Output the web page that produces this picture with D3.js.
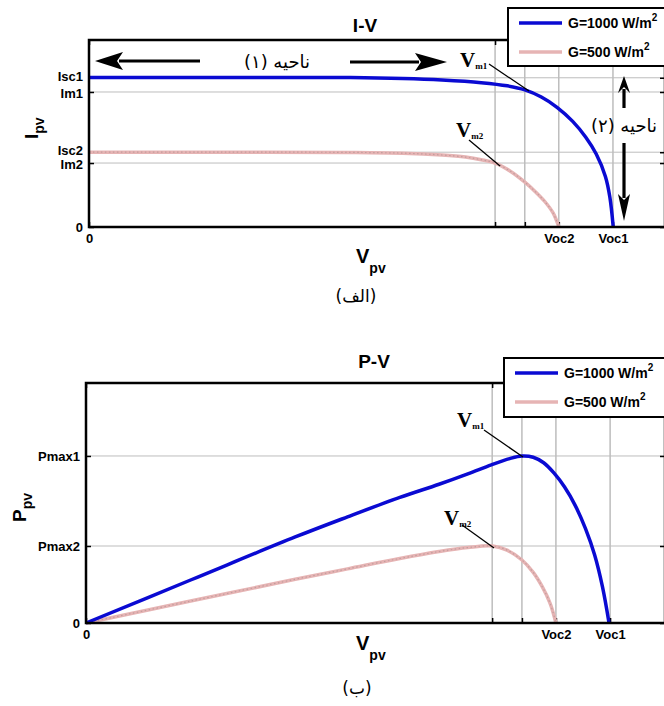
<!DOCTYPE html>
<html>
<head>
<meta charset="utf-8">
<script src="https://cdn.jsdelivr.net/npm/d3@7"></script>
<style>
  body { margin: 0; background: #fff; }
  svg { display: block; }
  .tick text { font-family: "Liberation Sans", Arial, sans-serif; font-weight: bold; font-size: 13px; fill: #000; }
  .tick line { stroke: #000; stroke-width: 1.5; }
  .lbl { font-family: "Liberation Sans", Arial, sans-serif; font-weight: bold; fill: #000; }
  .vm { font-family: "Liberation Serif", "Times New Roman", serif; font-weight: bold; fill: #000; }
  .fa { font-family: "DejaVu Sans", sans-serif; fill: #000; }
</style>
</head>
<body>
<svg id="chart" width="664" height="706"></svg>
<script>
// I-V curves (arbitrary units)
const ivV1000 = [0, 5, 10, 12, 13.5, 15, 16, 16.67, 17.3, 17.9, 18.5, 19.0, 19.4, 19.75, 19.92, 20.05];
const ivI1000 = [8.0, 8.0, 7.99, 7.94, 7.86, 7.72, 7.55, 7.33, 6.95, 6.4, 5.65, 4.8, 3.9, 2.7, 1.6, 0];
const ivV500 = [0, 5, 10, 12, 13.5, 14.4, 15.0, 15.53, 16.1, 16.67, 17.1, 17.44, 17.75, 17.97];
const ivI500 = [4.0, 4.0, 3.99, 3.95, 3.85, 3.74, 3.6, 3.42, 3.0, 2.4, 1.85, 1.35, 0.75, 0];

// P-V curves
const pvV1000 = [0, 4, 8, 10, 12, 13.5, 14.6, 15.5, 16.2, 16.67, 17.1, 17.5, 17.9, 18.3, 18.7, 19.1, 19.45, 19.75, 20.0];
const pvP1000 = [0, 31, 62, 76.5, 90.5, 100, 107.5, 114, 118.5, 120.4, 119.5, 115.5, 108, 98, 85, 68, 49, 26, 0];
const pvV500 = [0, 4, 8, 10, 12, 13.5, 14.6, 15.55, 16.1, 16.67, 17.1, 17.45, 17.75, 17.97];
const pvP500 = [0, 15.8, 31.5, 39, 46.5, 51.5, 54.4, 55.5, 52.5, 45.4, 36.5, 26, 14, 0];

// ticks
const vTicks = [0, 15.53, 16.67, 17.97, 20.04];
const vTickLabels = ["0", "", "", "Voc2", "Voc1"];
const iTicks = [0, 3.42, 4.0, 7.22, 7.98];
const iTickLabels = ["0", "Im2", "Isc2", "Im1", "Isc1"];
const iLabelNudge = [0, 1.5, -1.5, 1, -1];
const pTicks = [0, 55.5, 120.4];
const pTickLabels = ["0", "Pmax2", "Pmax1"];
const legendLabels = ["G=1000 W/m", "G=500 W/m"];

const BLUE = "#0a0ad2";
const PINK = "#e6b4b4";

const svg = d3.select("#chart");

function arrow(g, x1, y1, x2, y2, head, half) {
  // shaft from (x1,y1) to tip (x2,y2)
  const dx = x2 - x1, dy = y2 - y1, len = Math.hypot(dx, dy);
  const ux = dx / len, uy = dy / len;
  const bx = x2 - ux * head, by = y2 - uy * head;
  const nx = -uy, ny = ux;
  g.append("line")
    .attr("x1", x1).attr("y1", y1)
    .attr("x2", bx + ux * 4).attr("y2", by + uy * 4)
    .attr("stroke", "#000").attr("stroke-width", 3.2);
  g.append("path")
    .attr("d", `M${x2},${y2} L${bx + nx * half},${by + ny * half} L${bx + ux * 6},${by + uy * 6} L${bx - nx * half},${by - ny * half} Z`)
    .attr("fill", "#000");
}

function vmLabel(g, x, y, sub, lx1, ly1, lx2, ly2) {
  const t = g.append("text").attr("class", "vm").attr("x", x).attr("y", y).attr("font-size", 21).text("V");
  t.append("tspan").attr("font-size", 9).attr("dy", 2).text(sub);
  g.append("line")
    .attr("x1", lx1).attr("y1", ly1).attr("x2", lx2).attr("y2", ly2)
    .attr("stroke", "#000").attr("stroke-width", 1.3);
}

function legend(g, bx, by, w, h, y1, y2) {
  g.append("rect")
    .attr("x", bx).attr("y", by).attr("width", w).attr("height", h)
    .attr("fill", "#fff").attr("stroke", "#000").attr("stroke-width", 2);
  [y1, y2].forEach((yy, i) => {
    g.append("line").attr("x1", bx + 11).attr("x2", bx + 54).attr("y1", yy).attr("y2", yy)
      .attr("stroke", i === 0 ? BLUE : PINK).attr("stroke-width", 3.5);
    const t = g.append("text").attr("class", "lbl").attr("x", bx + 60).attr("y", yy + 5)
      .attr("font-size", 14).text(legendLabels[i]);
    t.append("tspan").attr("font-size", 10).attr("dy", -7).text("2");
  });
}

function panel(opt) {
  const g = svg.append("g");
  const { x, y } = opt;
  const [x0, x1] = x.range();
  const [y0, y1] = y.range();

  // grid
  g.selectAll(".vg").data(opt.xGrid).join("line")
    .attr("x1", d => x(d)).attr("x2", d => x(d))
    .attr("y1", y0).attr("y2", y1)
    .attr("stroke", "#9c9c9c").attr("stroke-width", 1);
  g.selectAll(".hg").data(opt.yGrid).join("line")
    .attr("x1", x0).attr("x2", x1)
    .attr("y1", d => y(d)).attr("y2", d => y(d))
    .attr("stroke", "#bdbdbd").attr("stroke-width", 1);

  // axes with inward ticks
  const noDomain = s => s.select(".domain").remove();
  const left = g.append("g").attr("transform", `translate(${x0},0)`)
    .call(d3.axisLeft(y).tickValues(opt.yTicks).tickFormat((d, i) => opt.yLabels[i])
      .tickSizeInner(-5).tickSizeOuter(0).tickPadding(6)).call(noDomain);
  if (opt.nudge) left.selectAll(".tick text").attr("y", (d, i) => opt.nudge[i]);
  g.append("g").attr("transform", `translate(${x1},0)`)
    .call(d3.axisRight(y).tickValues(opt.yTicks).tickFormat("")
      .tickSizeInner(-5).tickSizeOuter(0)).call(noDomain);
  g.append("g").attr("transform", `translate(0,${y0})`)
    .call(d3.axisBottom(x).tickValues(vTicks).tickFormat((d, i) => vTickLabels[i])
      .tickSizeInner(-5).tickSizeOuter(0).tickPadding(7)).call(noDomain)
    .selectAll(".tick text").attr("font-size", 14);
  g.append("g").attr("transform", `translate(0,${y1})`)
    .call(d3.axisTop(x).tickValues(vTicks).tickFormat("")
      .tickSizeInner(-5).tickSizeOuter(0)).call(noDomain);

  // curves
  const line = d3.line().x(d => x(d[0])).y(d => y(d[1])).curve(d3.curveCatmullRom.alpha(0.5));
  const s500 = d3.zip(opt.v500, opt.y500);
  const s1000 = d3.zip(opt.v1000, opt.y1000);
  g.append("path").datum(s500).attr("d", line)
    .attr("fill", "none").attr("stroke", PINK).attr("stroke-width", 3.5);
  g.append("path").datum(s500).attr("d", line)
    .attr("fill", "none").attr("stroke", "#9a8080").attr("stroke-width", 1.2)
    .attr("stroke-dasharray", "1.5 2.5").attr("opacity", 0.45);
  g.append("path").datum(s1000).attr("d", line)
    .attr("fill", "none").attr("stroke", BLUE).attr("stroke-width", 3.5);

  // frame
  g.append("rect")
    .attr("x", x0).attr("y", y1).attr("width", x1 - x0).attr("height", y0 - y1)
    .attr("fill", "none").attr("stroke", "#000").attr("stroke-width", 2.5);

  return g;
}

// ---- (a) I-V ----
const xTop = d3.scaleLinear().domain([0, 22.03]).range([89, 665]);
const yTop = d3.scaleLinear().domain([0, 10]).range([227, 40]);
const gTop = panel({
  x: xTop, y: yTop,
  xGrid: vTicks.slice(1), yGrid: iTicks.slice(1),
  yTicks: iTicks, yLabels: iTickLabels, nudge: iLabelNudge,
  v1000: ivV1000, y1000: ivI1000, v500: ivV500, y500: ivI500
});

gTop.append("text").attr("class", "lbl").attr("x", 365).attr("y", 32)
  .attr("text-anchor", "middle").attr("font-size", 19).text("I-V");
legend(gTop, 508, 8, 170, 58, 23, 52);

arrow(gTop, 200, 61, 95, 61, 28, 9);
arrow(gTop, 350, 62, 447, 62, 32, 9);
gTop.append("text").attr("class", "fa").attr("x", 277).attr("y", 68)
  .attr("text-anchor", "middle").attr("direction", "rtl").attr("font-size", 18).text("ناحیه (۱)");
arrow(gTop, 624, 108, 624, 76, 17, 6);
arrow(gTop, 624, 143, 624, 221, 27, 6);
gTop.append("text").attr("class", "fa").attr("x", 624).attr("y", 132)
  .attr("text-anchor", "middle").attr("direction", "rtl").attr("font-size", 18).text("ناحیه (۲)");
vmLabel(gTop, 460, 67, "m1", 489, 64, 529, 91);
vmLabel(gTop, 456, 137, "m2", 469, 140, 500, 166);

const iLab = gTop.append("text").attr("class", "lbl").attr("font-size", 19)
  .attr("transform", "translate(38,139) rotate(-90)").text("I");
iLab.append("tspan").attr("font-size", 14).attr("dy", 6).text("pv");
const vLabA = gTop.append("text").attr("class", "lbl").attr("x", 356).attr("y", 263)
  .attr("font-size", 20).text("V");
vLabA.append("tspan").attr("font-size", 14).attr("dy", 10).text("pv");
gTop.append("text").attr("class", "fa").attr("x", 356).attr("y", 302)
  .attr("text-anchor", "middle").attr("direction", "rtl").attr("font-size", 17).text("(الف)");

// ---- (b) P-V ----
const xBot = d3.scaleLinear().domain([0, 22.14]).range([86, 665]);
const yBot = d3.scaleLinear().domain([0, 173]).range([623, 383]);
const gBot = panel({
  x: xBot, y: yBot,
  xGrid: vTicks.slice(1), yGrid: pTicks.slice(1),
  yTicks: pTicks, yLabels: pTickLabels,
  v1000: pvV1000, y1000: pvP1000, v500: pvV500, y500: pvP500
});

gBot.append("text").attr("class", "lbl").attr("x", 374).attr("y", 368)
  .attr("text-anchor", "middle").attr("font-size", 19).text("P-V");
legend(gBot, 504, 358, 175, 59, 373, 402);
vmLabel(gBot, 457, 427, "m1", 484, 430, 523, 457);
vmLabel(gBot, 444, 525, "m2", 462, 525, 494, 548);

const pLab = gBot.append("text").attr("class", "lbl").attr("font-size", 19)
  .attr("transform", "translate(26,522) rotate(-90)").text("P");
pLab.append("tspan").attr("font-size", 14).attr("dy", 6).text("pv");
const vLabB = gBot.append("text").attr("class", "lbl").attr("x", 356).attr("y", 650)
  .attr("font-size", 20).text("V");
vLabB.append("tspan").attr("font-size", 14).attr("dy", 10).text("pv");
gBot.append("text").attr("class", "fa").attr("x", 357).attr("y", 694)
  .attr("text-anchor", "middle").attr("direction", "rtl").attr("font-size", 17).text("(ب)");
</script>
</body>
</html>
